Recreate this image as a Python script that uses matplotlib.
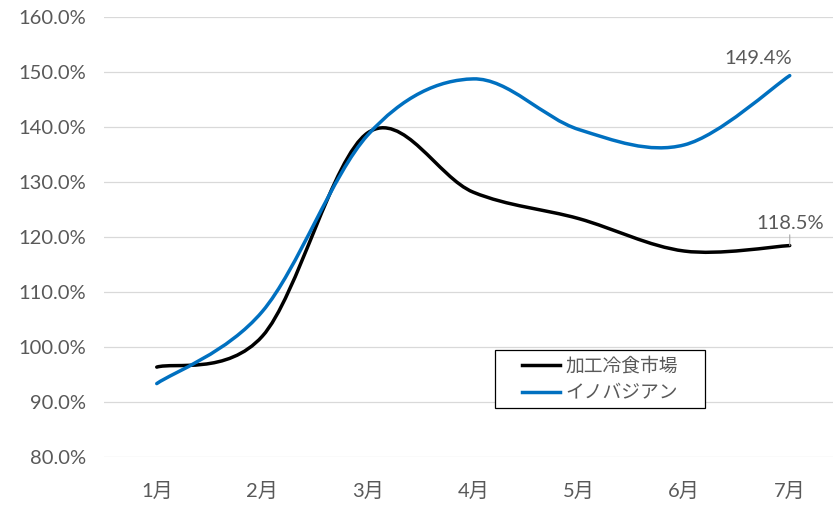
import numpy as np
import matplotlib
matplotlib.use("Agg")
import matplotlib.pyplot as plt
from matplotlib.path import Path
from matplotlib.patches import PathPatch, Rectangle
from matplotlib.lines import Line2D
from matplotlib.ticker import FuncFormatter

months = ['1月', '2月', '3月', '4月', '5月', '6月', '7月']
reitou = [96.4, 102.0, 139.0, 128.2, 123.4, 117.5, 118.5]
inobajian = [93.4, 106.5, 138.6, 148.8, 139.6, 136.8, 149.4]
names = ['加工冷食市場', 'イノバジアン']
colors = ['#000000', '#0070C0']

FONT = ['Lato', 'Noto Sans CJK JP', 'DejaVu Sans']
TXT = '#595959'
FS = 14.5


def smooth_path(xs, ys):
    # excel style smoothed line: bezier segments with catmull-rom tangents
    p = np.column_stack([xs, ys]).astype(float)
    n = len(p)
    verts = [p[0]]
    codes = [Path.MOVETO]
    for i in range(n - 1):
        p0 = p[max(i - 1, 0)]
        p1, p2 = p[i], p[i + 1]
        p3 = p[min(i + 2, n - 1)]
        c1 = p1 + (p2 - p0) / 6
        c2 = p2 - (p3 - p1) / 6
        verts += [c1, c2, p2]
        codes += [Path.CURVE4] * 3
    return Path(verts, codes)


fig = plt.figure(figsize=(8.33, 5.09), dpi=100)
ax = fig.add_axes([104 / 833, 1 - 457.3 / 509, 1 - 104 / 833, (457.3 - 17.3) / 509])

x = np.arange(len(months))
for vals, c in zip([reitou, inobajian], colors):
    ax.add_patch(PathPatch(smooth_path(x, vals), facecolor='none', edgecolor=c,
                           linewidth=2.5, capstyle='round', joinstyle='round', zorder=3))

ax.set_xlim(-0.5, 6.41)
ax.set_ylim(80, 160)
ax.set_yticks(np.arange(80, 161, 10))
ax.set_xticks(x)
ax.set_xticklabels(months)
ax.yaxis.set_major_formatter(FuncFormatter(lambda v, _: f'{v:.1f}%'))
ax.grid(axis='y', color='#D9D9D9', linewidth=0.9, zorder=0)
ax.set_axisbelow(True)
for s in ax.spines.values():
    s.set_visible(False)
ax.tick_params(length=0, colors=TXT, labelsize=FS)
ax.tick_params(axis='y', pad=13)
ax.tick_params(axis='x', pad=18)
for lab in ax.get_xticklabels() + ax.get_yticklabels():
    lab.set_family(FONT)

ax.annotate(f'{inobajian[-1]:.1f}%', (x[-1], inobajian[-1]), xytext=(-32, 17),
            textcoords='offset pixels', ha='center', va='center',
            fontsize=FS, color=TXT, family=FONT)
ax.annotate(f'{reitou[-1]:.1f}%', (x[-1], reitou[-1]), xytext=(0, 22),
            textcoords='offset pixels', ha='center', va='center',
            fontsize=FS, color=TXT, family=FONT,
            arrowprops=dict(arrowstyle='-', color='#A6A6A6', lw=0.8,
                            shrinkA=8, shrinkB=0))

# legend box drawn separately (excel has wide side padding)
bx0, bx1 = (495 - 104) / 729, (705 - 104) / 729
by0, by1 = (457.3 - 408) / 440, (457.3 - 350) / 440
ax.add_patch(Rectangle((bx0, by0), bx1 - bx0, by1 - by0, transform=ax.transAxes,
                       facecolor='white', edgecolor='black', linewidth=0.9, zorder=5))
handles = [Line2D([], [], color=c, linewidth=2.5) for c in colors]
leg = ax.legend(handles, names, loc='center',
                bbox_to_anchor=((bx0 + bx1) / 2, (by0 + by1) / 2),
                frameon=False, handlelength=2.0, handletextpad=0.3,
                borderpad=0, labelspacing=0.5,
                prop={'family': FONT, 'size': 13.5})
leg.set_zorder(6)
for t in leg.get_texts():
    t.set_color(TXT)

fig.savefig('out.png', dpi=100)
